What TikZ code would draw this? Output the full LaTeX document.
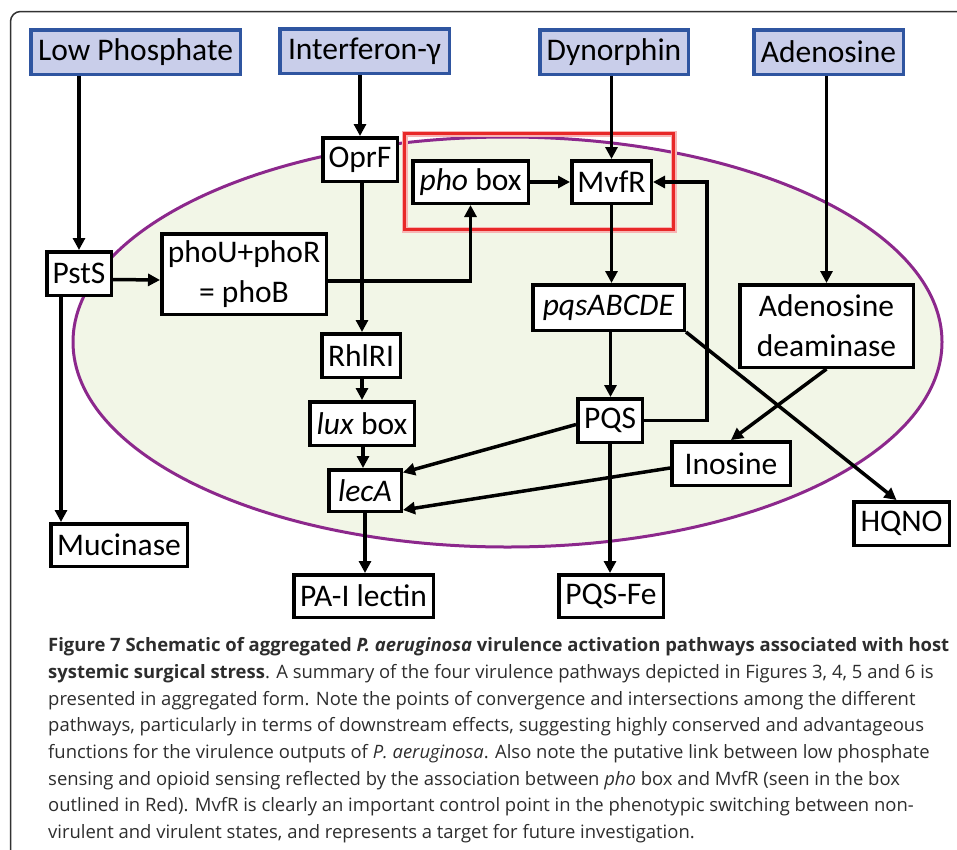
\documentclass[tikz,border=0pt]{standalone}
\usepackage{fontspec}
\setmainfont{Carlito}
\newfontfamily\capfont{Open Sans}
\usetikzlibrary{arrows.meta,calc}
\definecolor{inblue}{RGB}{47,85,160}
\definecolor{infill}{RGB}{201,206,234}
\definecolor{cellpurple}{RGB}{140,40,140}
\definecolor{cellfill}{RGB}{242,246,231}
\definecolor{hlred}{RGB}{232,40,40}
\definecolor{captext}{RGB}{45,45,45}
\definecolor{framec}{RGB}{50,50,50}
\begin{document}
\begin{tikzpicture}[x=1pt,y=-1pt,
 box/.style={draw=black,line width=3.5pt,fill=white,inner sep=0pt,align=center,font=\fontsize{31.5}{40}\selectfont},
 inbox/.style={box,draw=inblue,fill=infill},
 arr/.style={line width=3.5pt,-{Triangle[length=12pt,width=12pt]}},
 capline/.style={anchor=base west,inner sep=0pt,text=captext,font=\capfont\fontsize{18.45}{20}\selectfont}]
\useasboundingbox (0,0) rectangle (957,849);
% frame
\draw[framec,line width=1.5pt,rounded corners=10pt] (10.5,860) -- (10.5,11.5) -- (970,11.5);
% cell
\draw[cellpurple,fill=cellfill,line width=3pt] (507.5,342) ellipse [x radius=434.5, y radius=205];
% highlight box
\draw[hlred!35,line width=6pt] (404.5,133.5) rectangle (673.5,229.5);
\draw[hlred,line width=3pt] (404.5,133.5) rectangle (673.5,229.5);
% nodes
\node[inbox,minimum width=209.5,minimum height=44.5] (lowp) at (135.5,52) {Low Phosphate};
\node[inbox,minimum width=169.5,minimum height=44.5] (ifn) at (364.5,51) {Interferon-γ};
\node[inbox,minimum width=148.5,minimum height=44.5] (dyn) at (614,52) {Dynorphin};
\node[inbox,minimum width=149.5,minimum height=44.5] (ade) at (828.5,52) {Adenosine};
\node[box,minimum width=74.5,minimum height=43.5] (oprf) at (360,159.5) {OprF};
\node[box,minimum width=115.5,minimum height=42.5] (pho) at (470.5,182) {\textit{pho} box};
\node[box,minimum width=79.5,minimum height=42.5] (mvfr) at (611.5,182) {MvfR};
\node[box,minimum width=64.5,minimum height=43.5] (psts) at (79,273.5) {PstS};
\node[box,minimum width=164.5,minimum height=80.5] (phou) at (244,274) {phoU+phoR\\= phoB};
\node[box,minimum width=78.5,minimum height=43.5] (rhl) at (361,355.5) {RhlRI};
\node[box,minimum width=104.5,minimum height=43.5] (lux) at (362,423.5) {\textit{lux} box};
\node[box,minimum width=72.5,minimum height=41.5] (leca) at (365,490.5) {\textit{lecA}};
\node[box,minimum width=136.5,minimum height=42.5] (muc) at (119,545) {Mucinase};
\node[box,minimum width=139.5,minimum height=42.5] (pai) at (363.5,596) {PA-I lectin};
\node[box,minimum width=151.5,minimum height=45.5] (pqs) at (608.5,307.5) {\textit{pqsABCDE}};
\node[box,minimum width=173.5,minimum height=82.5] (add) at (826.5,326) {Adenosine\\deaminase};
\node[box,minimum width=64.5,minimum height=43.5] (pqsn) at (610,420.5) {PQS};
\node[box,minimum width=118.5,minimum height=43.5] (ino) at (731,463.5) {Inosine};
\node[box,minimum width=95.5,minimum height=43.5] (hqno) at (901.5,523.5) {HQNO};
\node[box,minimum width=104.5,minimum height=42.5] (pqsfe) at (611,596) {PQS-Fe};
\coordinate (fb) at (707,182);
% arrows
\draw[arr] (psts.north |- lowp.south) -- (psts.north);
\draw[arr] (oprf.north |- ifn.south) -- (oprf.north);
\draw[arr] (mvfr.north |- dyn.south) -- (mvfr.north);
\draw[arr] (add.north |- ade.south) -- (add.north);
\draw[arr] ([yshift=-6pt]psts.east) -- ([yshift=-6pt]phou.west);
\draw[arr] ([yshift=-7pt]phou.east) -| (pho.south);
\draw[arr] ([xshift=2pt]oprf.south) -- ([xshift=2pt]oprf.south |- rhl.north);
\draw[arr] ([xshift=1pt]rhl.south) -- ([xshift=1pt]rhl.south |- lux.north);
\draw[arr] ([xshift=1pt]lux.south) -- ([xshift=1pt]lux.south |- leca.north);
\draw[arr] (leca.south) -- (leca.south |- pai.north);
\draw[arr] (pho.east) -- (mvfr.east -| mvfr.west);
\draw[arr] (mvfr.south) -- (mvfr.south |- pqs.north);
\draw[arr] (pqsn.east) -| (fb) -- (mvfr.east);
\draw[arr] ([xshift=2pt]pqs.south) -- ([xshift=2pt]pqs.south |- pqsn.north);
\draw[arr] (pqs.south east) -- ([xshift=-5pt]hqno.north);
\draw[arr] (add.south) -- (ino.north);
\draw[arr] ([yshift=-4pt]pqsn.west) -- ([yshift=18pt]leca.east);
\draw[arr] ([yshift=-4.5pt]ino.west) -- ([yshift=-19.5pt]leca.east);
\draw[arr] ([xshift=-18pt]psts.south) -- ([xshift=-18pt]psts.south |- muc.north);
\draw[arr] (pqsn.south) -- (pqsn.south |- pqsfe.north);
% caption
\node[capline] (c1) at (48,651.7) {\textbf{Figure 7 Schematic of aggregated \textit{P. aeruginosa} virulence activation pathways associated with host}};
\node[capline] (c2) at (48,678.4) {\textbf{systemic surgical stress}. A summary of the four virulence pathways depicted in Figures 3, 4, 5 and 6 is};
\node[capline] (c3) at (48,705.0) {presented in aggregated form. Note the points of convergence and intersections among the different};
\node[capline] (c4) at (48,731.7) {pathways, particularly in terms of downstream effects, suggesting highly conserved and advantageous};
\node[capline] (c5) at (48,758.3) {functions for the virulence outputs of \textit{P. aeruginosa}. Also note the putative link between low phosphate};
\node[capline] (c6) at (48,785.0) {sensing and opioid sensing reflected by the association between \textit{pho} box and MvfR (seen in the box};
\node[capline] (c7) at (48,811.7) {outlined in Red). MvfR is clearly an important control point in the phenotypic switching between non-};
\node[capline] (c8) at (48,838.3) {virulent and virulent states, and represents a target for future investigation.};
\end{tikzpicture}
\end{document}
